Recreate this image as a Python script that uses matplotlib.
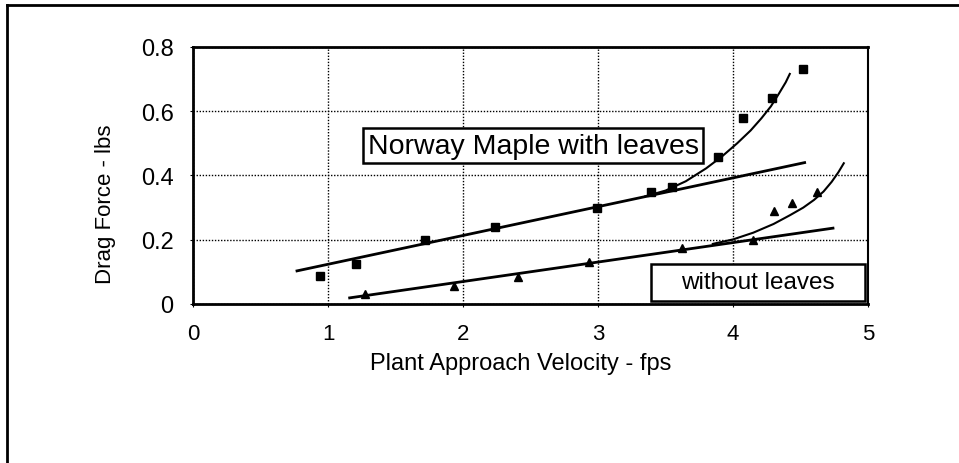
import matplotlib.pyplot as plt
from matplotlib.lines import Line2D
from matplotlib.patches import Rectangle

plt.rcParams['font.family'] = ['Liberation Sans', 'DejaVu Sans']

# measured points - Norway Maple with leaves (squares)
leaves_v = [0.94, 1.21, 1.72, 2.24, 2.99, 3.39, 3.55, 3.89, 4.07, 4.29, 4.52]
leaves_f = [0.088, 0.125, 0.20, 0.24, 0.30, 0.348, 0.364, 0.457, 0.58, 0.64, 0.73]

# measured points - without leaves (triangles)
bare_v = [1.27, 1.93, 2.41, 2.93, 3.62, 4.15, 4.30, 4.44, 4.62]
bare_f = [0.031, 0.056, 0.084, 0.13, 0.174, 0.20, 0.29, 0.314, 0.349]

# straight trend lines (end points)
leaves_line_v = [0.77, 4.53]
leaves_line_f = [0.103, 0.44]
bare_line_v = [1.16, 4.74]
bare_line_f = [0.019, 0.236]

# curved trend lines
leaves_curve_v = [3.35, 3.5, 3.65, 3.8, 3.92, 4.03, 4.13, 4.21, 4.28, 4.34, 4.39, 4.42]
leaves_curve_f = [0.335, 0.353, 0.382, 0.422, 0.46, 0.50, 0.54, 0.578, 0.615, 0.655, 0.69, 0.716]
bare_curve_v = [3.85, 4.0, 4.15, 4.3, 4.42, 4.52, 4.6, 4.67, 4.73, 4.78, 4.82]
bare_curve_f = [0.187, 0.201, 0.222, 0.249, 0.276, 0.30, 0.324, 0.35, 0.38, 0.41, 0.438]

fig = plt.figure(figsize=(9.59, 4.64), dpi=100)
ax = fig.add_axes([0.2013, 0.3427, 0.7039, 0.554])

ax.plot(leaves_line_v, leaves_line_f, color='black', lw=2)
ax.plot(bare_line_v, bare_line_f, color='black', lw=2)
ax.plot(leaves_curve_v, leaves_curve_f, color='black', lw=1.5)
ax.plot(bare_curve_v, bare_curve_f, color='black', lw=1.5)
ax.plot(leaves_v, leaves_f, 's', color='black', ms=6, ls='none')
ax.plot(bare_v, bare_f, '^', color='black', ms=6, ls='none')

ax.set_xlim(0, 5)
ax.set_ylim(0, 0.8)
ax.set_xticks([0, 1, 2, 3, 4, 5])
ax.set_yticks([0, 0.2, 0.4, 0.6, 0.8])
ax.set_yticklabels(['0', '0.2', '0.4', '0.6', '0.8'])
ax.grid(True, color='black', linestyle=(0, (1, 1.2)), linewidth=1)
ax.tick_params(axis='x', labelsize=16, pad=12, length=2, direction='out')
ax.tick_params(axis='y', labelsize=17, pad=12, length=2, direction='out')
for side in ['left', 'bottom', 'top']:
    ax.spines[side].set_linewidth(2)
ax.spines['right'].set_linewidth(1.5)

ax.set_xlabel('Plant Approach Velocity - fps', fontsize=17)
ax.xaxis.set_label_coords(0.486, -0.185)
ax.set_ylabel('Drag Force - lbs', fontsize=16)
ax.yaxis.set_label_coords(-0.114, 0.39)

box = dict(boxstyle='square,pad=0.15', facecolor='white', edgecolor='black', linewidth=1.8)
ax.text(2.52, 0.493, 'Norway Maple with leaves', fontsize=20.5, ha='center', va='center', bbox=box)

# box drawn separately: wider side margins than top/bottom in the original
ax.add_patch(Rectangle((3.393, 0.009), 1.585, 0.1155, facecolor='white',
                       edgecolor='black', linewidth=1.8, zorder=3))
ax.text(4.185, 0.067, 'without leaves', fontsize=17.5, ha='center', va='center', zorder=4)

# outer frame (only top and left edges visible in the scan)
fig.add_artist(Line2D([0.007, 1.0], [0.986, 0.986], color='black', lw=2))
fig.add_artist(Line2D([0.007, 0.007], [0.0, 0.986], color='black', lw=2))

fig.savefig('out.png', dpi=100)
